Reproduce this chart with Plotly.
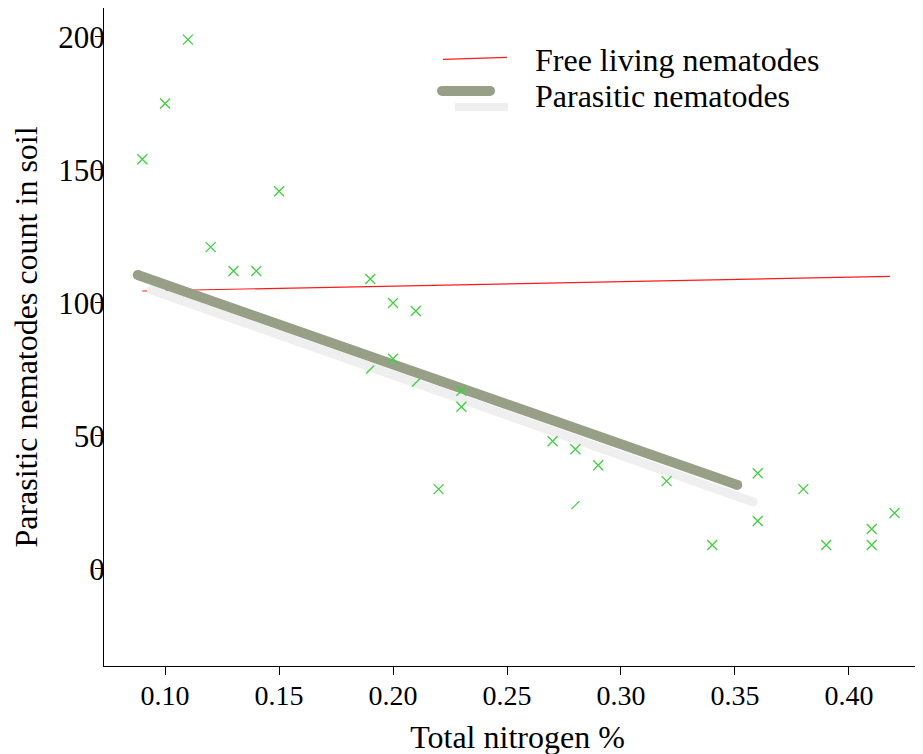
import plotly.graph_objects as go

# ---- data ----
nitrogen = [0.09, 0.10, 0.11, 0.12, 0.13, 0.14, 0.15, 0.19, 0.20, 0.20, 0.21, 0.22, 0.23,
            0.23, 0.27, 0.28, 0.29, 0.32, 0.34, 0.36, 0.36, 0.38, 0.39, 0.41, 0.41, 0.42]
parasitic = [154, 175, 199, 121, 112, 112, 142, 109, 100, 79, 97, 30, 67,
             61, 48, 45, 39, 33, 9, 36, 18, 30, 9, 15, 9, 21]
partial_x = [0.19, 0.21, 0.28]
partial_y = [75, 70, 24]

free_fit_x = [0.09, 0.418]
free_fit_y = [104.5, 110.0]
para_fit_x = [0.088, 0.351]
para_fit_y = [110.5, 31.6]
shadow_fit_x = [0.094, 0.358]
shadow_fit_y = [104.9, 25.2]

x_ticks = [0.10, 0.15, 0.20, 0.25, 0.30, 0.35, 0.40]
y_ticks = [0, 50, 100, 150, 200]

legend_labels = ["Free living nematodes", "Parasitic nematodes"]

FONT = "Liberation Serif, Times New Roman, serif"
GREEN_LINE = "#97a087"
SHADOW = "#efefef"

fig = go.Figure()

fig.add_trace(go.Scatter(x=free_fit_x, y=free_fit_y, mode="lines",
                         line=dict(color="#ff1a1a", width=1.2), showlegend=False))
fig.add_trace(go.Scatter(x=shadow_fit_x, y=shadow_fit_y, mode="lines+markers",
                         line=dict(color=SHADOW, width=9),
                         marker=dict(symbol="circle", size=9, color=SHADOW, line=dict(width=0)),
                         showlegend=False))
fig.add_trace(go.Scatter(x=para_fit_x, y=para_fit_y, mode="lines+markers",
                         line=dict(color=GREEN_LINE, width=10),
                         marker=dict(symbol="circle", size=10, color=GREEN_LINE, line=dict(width=0)),
                         showlegend=False))
fig.add_trace(go.Scatter(x=nitrogen, y=parasitic, mode="markers",
                         marker=dict(symbol="x-thin", size=10, line=dict(color="#3fd13f", width=1.3)),
                         showlegend=False))
fig.add_trace(go.Scatter(x=partial_x, y=partial_y, mode="markers",
                         marker=dict(symbol="line-ne", size=8, line=dict(color="#3fd13f", width=1.3)),
                         showlegend=False))

# manual legend (paper coordinates)
shapes = [
    dict(type="line", xref="paper", yref="paper", x0=0.4099, x1=0.4873, y0=0.922, y1=0.925,
         line=dict(color="#ff1a1a", width=1.2)),
    dict(type="line", xref="paper", yref="paper", x0=0.4244, x1=0.4885, y0=0.8495, y1=0.8495,
         line=dict(color=SHADOW, width=8)),
    dict(type="line", xref="paper", yref="paper", x0=0.4087, x1=0.4667, y0=0.874, y1=0.874,
         line=dict(color=GREEN_LINE, width=10)),
    dict(type="circle", xref="paper", yref="paper", x0=0.4027, x1=0.4148, y0=0.8664, y1=0.8816,
         line=dict(width=0), fillcolor=GREEN_LINE),
    dict(type="circle", xref="paper", yref="paper", x0=0.4607, x1=0.4728, y0=0.8664, y1=0.8816,
         line=dict(width=0), fillcolor=GREEN_LINE),
]
annotations = [
    dict(text=legend_labels[0], xref="paper", yref="paper", x=0.5187, y=0.921,
         xanchor="left", yanchor="middle", showarrow=False,
         font=dict(family=FONT, size=32, color="black")),
    dict(text=legend_labels[1], xref="paper", yref="paper", x=0.5187, y=0.867,
         xanchor="left", yanchor="middle", showarrow=False,
         font=dict(family=FONT, size=32, color="black")),
]

fig.update_layout(
    width=923, height=754,
    margin=dict(l=96, r=0, t=0, b=96),
    plot_bgcolor="white", paper_bgcolor="white",
    font=dict(family=FONT, color="black"),
    shapes=shapes, annotations=annotations,
    xaxis=dict(range=[0.0732, 0.436], tickvals=x_ticks, tickformat=".2f", automargin=False,
               showgrid=False, zeroline=False, showline=True, linecolor="black", linewidth=1.2,
               ticks="outside", ticklen=8, tickcolor="black", ticklabelstandoff=-4,
               tickfont=dict(family=FONT, size=28),
               title=dict(text="Total nitrogen %", font=dict(family=FONT, size=32), standoff=15)),
    yaxis=dict(range=[-36.5, 210.9], tickvals=y_ticks, automargin=False,
               showgrid=False, zeroline=False, showline=True, linecolor="black", linewidth=1.2,
               ticks="outside", ticklen=8, tickcolor="black", ticklabelstandoff=-16,
               tickfont=dict(family=FONT, size=31),
               title=dict(text="Parasitic nematodes count in soil", font=dict(family=FONT, size=32),
                          standoff=16)),
)

fig.write_html("out.html")
